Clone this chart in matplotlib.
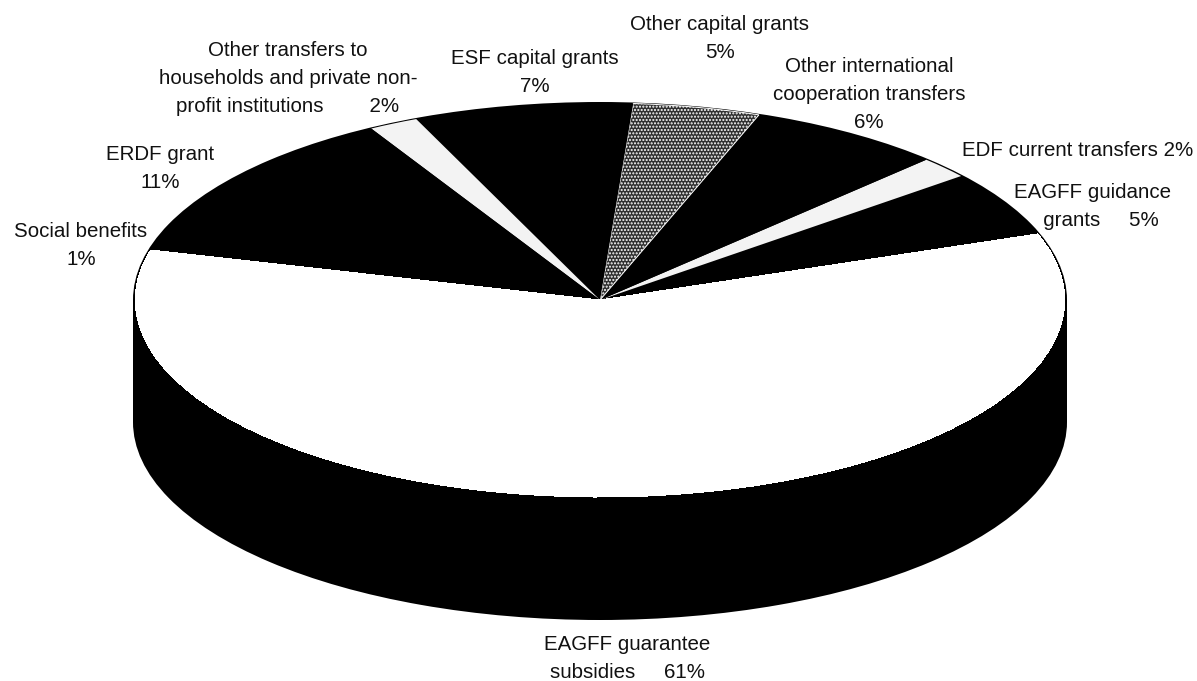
import matplotlib
matplotlib.use("Agg")
import matplotlib.pyplot as plt

plt.rcParams['font.family'] = ['Liberation Sans', 'DejaVu Sans']

# Wedges run counter-clockwise from the right side.
categories = ["EAGFF guidance grants", "EDF current transfers",
              "Other international cooperation transfers", "Other capital grants",
              "ESF capital grants", "Other transfers to households and private non-profit institutions",
              "ERDF grant", "Social benefits", "EAGFF guarantee subsidies"]
# Labelled percentages
percent_labels = [5, 2, 6, 5, 7, 2, 11, 1, 61]
# Shares of the ellipse as drawn (degrees)
drawn_shares = [19.4, 6.4, 24.6, 15.9, 27.4, 6.2, 45.8, 3.6, 210.7]
colors = ['black', '#f3f3f3', 'black', '#303030', 'black', '#f3f3f3', 'black', 'white', 'white']
start_angle = 19.6

W, H = 1197, 681
CX, CY, RX, RY = 600, 300, 467, 198
DEPTH = 122 / RY

fig = plt.figure(figsize=(W / 100, H / 100), dpi=100, facecolor='white')
ax = fig.add_axes([0, 0, 1, 1])

# extruded side
ax.pie([1], colors=['black'], center=(0, -DEPTH), radius=1, frame=False)
ax.bar(0, DEPTH, width=2, bottom=-DEPTH, color='black')
# black rim under the top face
ax.pie([1], colors=['black'], radius=1.0, frame=False)
# top face
wedges, _ = ax.pie(drawn_shares, colors=colors, startangle=start_angle, counterclock=True,
                   radius=0.995, frame=False, wedgeprops=dict(linewidth=0))
wedges[3].set_edgecolor('white')
wedges[3].set_linewidth(0.7)
wedges[3].set_hatch('.....')
# close the seam between the two white wedges
wedges[7].set_antialiased(False)
wedges[8].set_antialiased(False)

ax.set_aspect('auto')
ax.set_xlim(-CX / RX, (W - CX) / RX)
ax.set_ylim((CY - H) / RY, CY / RY)
ax.axis('off')

labels = [
    (f"EAGFF guidance\n   grants     {percent_labels[0]}%", 1092, 206),
    (f"EDF current transfers {percent_labels[1]}%", 1078, 150),
    (f"Other international\ncooperation transfers\n{percent_labels[2]}%", 869, 94),
    (f"Other capital grants\n{percent_labels[3]}%", 720, 39),
    (f"ESF capital grants\n{percent_labels[4]}%", 535, 72),
    (f"Other transfers to\nhouseholds and private non-\nprofit institutions        {percent_labels[5]}%", 288, 78),
    (f"ERDF grant\n{percent_labels[6]}%", 160, 168),
    (f"Social benefits\n{percent_labels[7]}%", 81, 246),
    (f"EAGFF guarantee\nsubsidies     {percent_labels[8]}%", 627, 659),
]
for text, px, py in labels:
    fig.text(px / W, 1 - py / H, text, ha='center', va='center', fontsize=14.8,
             linespacing=1.6, color='#111111')

fig.savefig('out.png', dpi=100)
